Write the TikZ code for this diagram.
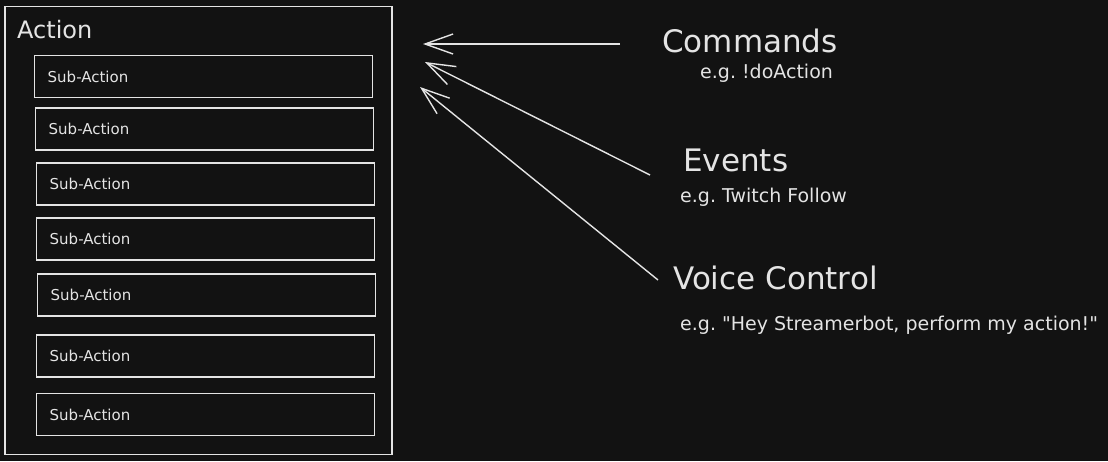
\documentclass[tikz,border=0pt]{standalone}
\usepackage{fontspec}
\setmainfont{DejaVu Sans}[Ligatures=TeXOff]
\usetikzlibrary{arrows.meta}
\definecolor{bg}{HTML}{121212}
\definecolor{ink}{HTML}{E4E4E4}
\frenchspacing
\tikzset{
  frame/.style={draw=ink, line width=1.4pt},
  subbox/.style={frame, minimum width=338pt, minimum height=42pt, text width=312pt,
    inner xsep=13pt, align=left, text=ink, font=\fontsize{15pt}{18pt}\selectfont, anchor=west},
  title/.style={text=ink, anchor=west, inner sep=0pt, font=\fontsize{31pt}{36pt}\selectfont},
  note/.style={text=ink, anchor=west, inner sep=0pt, font=\fontsize{19pt}{22pt}\selectfont},
  link/.style={draw=ink, line width=1.4pt, -{Straight Barb[length=28pt,width=20pt,line width=1.4pt]}}
}
\begin{document}
\begin{tikzpicture}[x=1pt,y=-1pt]
\fill[bg] (0,0) rectangle (1108,461);
\useasboundingbox (0,0) rectangle (1108,461);
% outer action box
\node[frame, minimum width=387pt, minimum height=448pt, inner sep=0pt] (action) at (198.5,230.5) {};
\node[text=ink, anchor=west, inner sep=0pt, font=\fontsize{24pt}{28pt}\selectfont] (actionlbl) at (17,30) {Action};
% sub-actions
\node[subbox] (s1) at (34,76.5) {Sub-Action};
\node[subbox] (s2) at (35,129) {Sub-Action};
\node[subbox] (s3) at (36,184) {Sub-Action};
\node[subbox] (s4) at (36,239) {Sub-Action};
\node[subbox] (s5) at (37,295) {Sub-Action};
\node[subbox] (s6) at (36,356) {Sub-Action};
\node[subbox] (s7) at (36,414.5) {Sub-Action};
% triggers
\node[title] (cmd) at (662,41) {Commands};
\node[note] (cmdnote) at (700,73) {e.g. !doAction};
\node[title] (evt) at (683,160) {Events};
\node[note] (evtnote) at (680,197) {e.g. Twitch Follow};
\node[title] (voice) at (673,278) {Voice Control};
\node[note] (voicenote) at (680,325) {e.g. "Hey Streamerbot, perform my action!"};
% arrow ends
\coordinate (cmdtail) at (620,44);
\coordinate (cmdtip) at (423,44);
\coordinate (evttail) at (650,175);
\coordinate (evttip) at (425,62);
\coordinate (voicetail) at (658,280);
\coordinate (voicetip) at (420,87);
\draw[link] (cmdtail) -- (cmdtip);
\draw[link] (evttail) -- (evttip);
\draw[link] (voicetail) -- (voicetip);
\end{tikzpicture}
\end{document}
